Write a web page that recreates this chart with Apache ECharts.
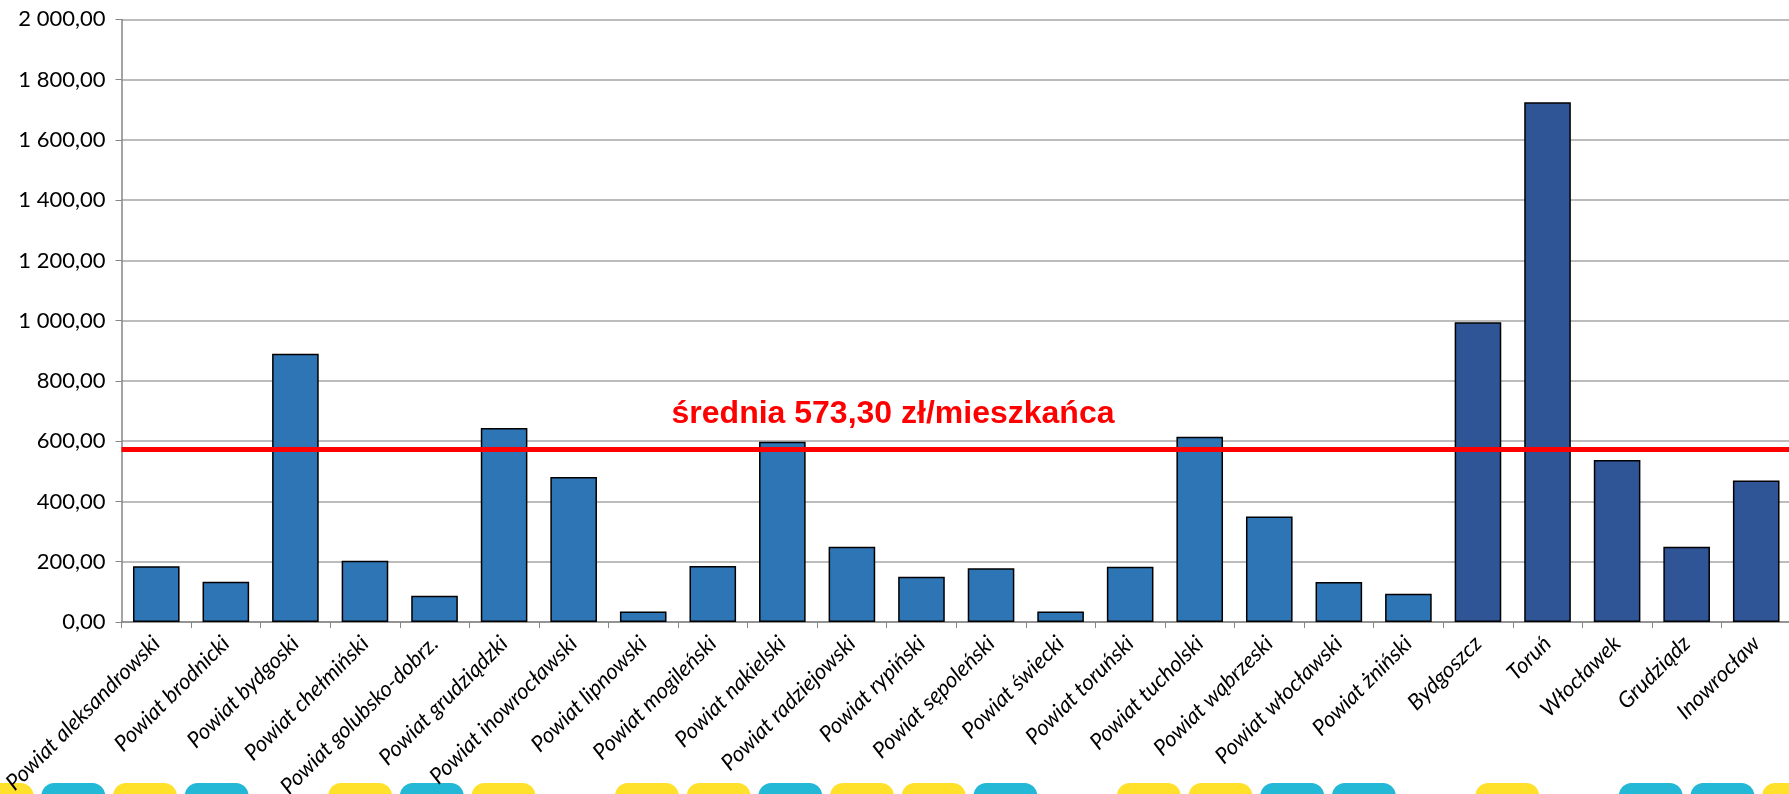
<!DOCTYPE html>
<html>
<head>
<meta charset="utf-8">
<script src="https://cdn.jsdelivr.net/npm/echarts@6/dist/echarts.min.js"></script>
<style>
  html, body { margin: 0; padding: 0; background: #fff; }
  #chart { width: 1789px; height: 794px; }
</style>
</head>
<body>
<div id="chart"></div>
<script>
// powiaty (districts)
const powiatNames = [
  'Powiat aleksandrowski', 'Powiat brodnicki', 'Powiat bydgoski', 'Powiat chełmiński',
  'Powiat golubsko-dobrz.', 'Powiat grudziądzki', 'Powiat inowrocławski', 'Powiat lipnowski',
  'Powiat mogileński', 'Powiat nakielski', 'Powiat radziejowski', 'Powiat rypiński',
  'Powiat sępoleński', 'Powiat świecki', 'Powiat toruński', 'Powiat tucholski',
  'Powiat wąbrzeski', 'Powiat włocławski', 'Powiat żniński'
];
const powiatValues = [185, 134, 890, 203, 87, 644, 481, 35, 186, 598, 250, 150, 178, 35, 183, 615, 350, 133, 94];

// miasta (cities)
const cityNames = ['Bydgoszcz', 'Toruń', 'Włocławek', 'Grudziądz', 'Inowrocław'];
const cityValues = [995, 1725, 538, 250, 470];

const average = 573.30;
const yTicks = { min: 0, max: 2000, interval: 200 };

// bottom decoration strip: Y = yellow, C = cyan, '-' = empty slot
const stripPattern = 'YCYC-YCY-YYCYYC-YYCC-Y-CCY'.split('');

let chartDom = document.getElementById('chart');
let myChart = echarts.init(chartDom);

const fmt = (v) => {
  const parts = Number(v).toFixed(2).split('.');
  return parts[0].replace(/\B(?=(\d{3})+(?!\d))/g, ' ') + ',' + parts[1];
};

const barData = [
  ...powiatValues.map((v) => ({ value: v, itemStyle: { color: '#2e75b6' } })),
  ...cityValues.map((v) => ({ value: v, itemStyle: { color: '#2f5597' } })),
];

const strip = stripPattern
  .map((c, i) => ({ c, i }))
  .filter((s) => s.c !== '-')
  .map((s) => ({
    type: 'rect',
    z: 0,
    shape: { x: -30.4 + s.i * 71.7, y: 783, width: 64, height: 40, r: 13 },
    style: { fill: s.c === 'Y' ? '#ffe02a' : '#22b8d6' },
  }));

let option = {
  animation: false,
  grid: { left: 121.5, right: -2, top: 19.4, bottom: 172, outerBoundsMode: 'none' },
  xAxis: {
    type: 'category',
    data: [...powiatNames, ...cityNames],
    axisLine: { lineStyle: { color: '#868686', width: 1.5 } },
    axisTick: { show: true, length: 6, lineStyle: { color: '#868686' } },
    axisLabel: {
      rotate: 45,
      interval: 0,
      margin: 18,
      color: '#000',
      fontFamily: 'Lato',
      fontStyle: 'italic',
      fontSize: 22,
    },
  },
  yAxis: {
    type: 'value',
    min: yTicks.min,
    max: yTicks.max,
    interval: yTicks.interval,
    axisLine: { show: true, lineStyle: { color: '#868686', width: 1.5 } },
    axisTick: { show: true, length: 6, lineStyle: { color: '#868686' } },
    splitLine: { lineStyle: { color: '#a6a6a6', width: 1.5 } },
    axisLabel: {
      margin: 16,
      color: '#000',
      fontFamily: 'Lato',
      fontSize: 22,
      formatter: fmt,
    },
  },
  series: [
    {
      type: 'bar',
      barCategoryGap: '33%',
      data: barData,
      itemStyle: { borderColor: '#000', borderWidth: 1.5 },
      markLine: {
        silent: true,
        symbol: 'none',
        label: { show: false },
        lineStyle: { color: '#ff0000', width: 5, type: 'solid' },
        data: [{ yAxis: average }],
      },
    },
  ],
  graphic: [
    ...strip,
    {
      type: 'text',
      z: 10,
      style: {
        text: 'średnia ' + fmt(average) + ' zł/mieszkańca',
        x: 893,
        y: 414,
        align: 'center',
        verticalAlign: 'middle',
        fontFamily: 'Liberation Sans',
        fontWeight: 'bold',
        fontSize: 32,
        fill: '#ff0000',
      },
    },
  ],
};

option && myChart.setOption(option);
</script>
</body>
</html>
